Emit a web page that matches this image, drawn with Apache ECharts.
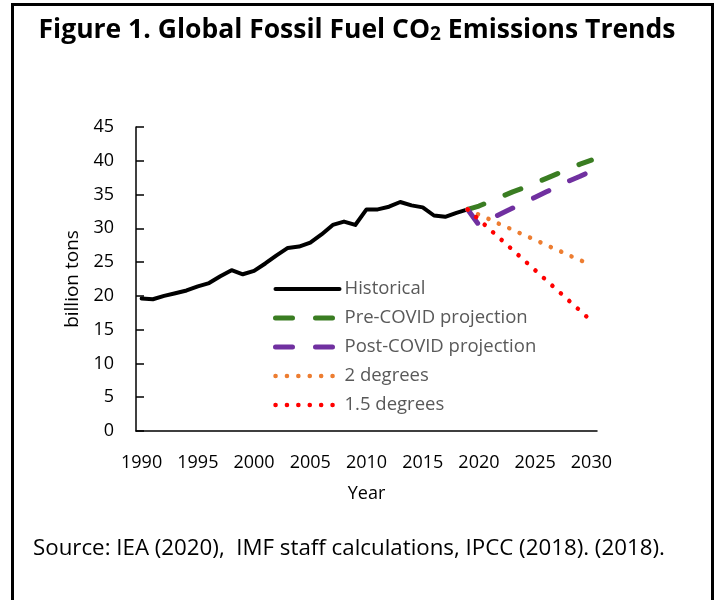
<!DOCTYPE html>
<html>
<head>
<meta charset="utf-8">
<script src="https://cdn.jsdelivr.net/npm/echarts@6/dist/echarts.min.js"></script>
<style>
html,body{margin:0;padding:0;background:#fff;}
#chart{width:714px;height:600px;}
</style>
</head>
<body>
<div id="chart"></div>
<script>
// ---- Data ----
var years = [];
for (var y = 1990; y <= 2030; y++) years.push(String(y));

var historicalYears = ['1990','1991','1992','1993','1994','1995','1996','1997','1998','1999',
  '2000','2001','2002','2003','2004','2005','2006','2007','2008','2009',
  '2010','2011','2012','2013','2014','2015','2016','2017','2018','2019'];
var historical = [19.6,19.5,20.0,20.4,20.8,21.4,21.9,22.9,23.8,23.2,
  23.7,24.8,26.0,27.1,27.3,27.9,29.1,30.5,31.0,30.5,
  32.8,32.8,33.2,33.9,33.4,33.1,31.9,31.7,32.3,32.8];

var projYears = ['2019','2020','2021','2022','2023','2024','2025','2026','2027','2028','2029','2030'];
var preCovid  = [32.8,33.3,34.0,34.7,35.4,36.0,36.7,37.4,38.1,38.8,39.5,40.1];
var postCovid = [32.8,30.5,31.4,32.2,33.0,33.8,34.6,35.4,36.2,37.0,37.7,38.5];
var twoDeg    = [32.8,32.0,31.3,30.5,29.8,29.0,28.3,27.5,26.8,26.0,25.3,24.5];
var onePointFive = [32.8,31.3,29.8,28.3,26.8,25.3,23.8,22.3,20.8,19.3,17.8,16.3];

var seriesNames = ['Historical','Pre-COVID projection','Post-COVID projection','2 degrees','1.5 degrees'];
var yTicks = {min:0, max:45, interval:5};

function toSeriesData(ys, vals) {
  var map = {};
  ys.forEach(function(yr, i){ map[yr] = vals[i]; });
  return years.map(function(yr){ return map.hasOwnProperty(yr) ? map[yr] : null; });
}

var FONT = 'Open Sans';
var chart = echarts.init(document.getElementById('chart'), null, {renderer:'canvas'});

function lineSeries(name, data, color, width, type) {
  return {
    name: name, type: 'line', data: data, symbol: 'none', showSymbol: false,
    connectNulls: false, animation: false,
    lineStyle: {color: color, width: width, type: type, cap: 'round', join: 'round'},
    itemStyle: {color: color}
  };
}

var option = {
  animation: false,
  backgroundColor: '#fff',
  title: {
    text: '{b|Figure 1. Global Fossil Fuel CO}{s|2}{b| Emissions Trends}',
    left: 'center', top: 12,
    textStyle: {
      rich: {
        b: {fontFamily: FONT, fontWeight: 'bold', fontSize: 26.5, color: '#000'},
        s: {fontFamily: FONT, fontWeight: 'bold', fontSize: 19, color: '#000', padding:[8,0,0,0]}
      }
    }
  },
  grid: {left: 136, right: 117, top: 127, bottom: 169, containLabel: false},
  legend: {
    orient: 'vertical', left: 273, top: 279, padding: 0,
    itemWidth: 64, itemHeight: 20, itemGap: 9,
    itemStyle: {opacity: 0},
    lineStyle: {width: 'inherit', type: 'inherit', cap: 'inherit', join: 'inherit'},
    textStyle: {fontFamily: FONT, fontSize: 18.5, color: '#595959', lineHeight: 20, padding:[0,0,0,0]},
    data: seriesNames
  },
  xAxis: {
    type: 'category', data: years, boundaryGap: true,
    name: 'Year', nameLocation: 'middle', nameGap: 54,
    nameTextStyle: {fontFamily: FONT, fontSize: 18, color: '#000'},
    axisLine: {lineStyle: {color: '#000', width: 1.5}},
    axisTick: {inside: true, length: 8, interval: 4, lineStyle: {color: '#000', width: 1.5}},
    axisLabel: {interval: 4, margin: 23, fontFamily: FONT, fontSize: 18, color: '#000'},
    splitLine: {show: false}
  },
  yAxis: {
    type: 'value', min: yTicks.min, max: yTicks.max, interval: yTicks.interval,
    name: 'billion tons', nameLocation: 'middle', nameGap: 48, nameRotate: 90,
    nameTextStyle: {fontFamily: FONT, fontSize: 19, color: '#000'},
    axisLine: {show: true, lineStyle: {color: '#000', width: 1.5}},
    axisTick: {show: true, inside: true, length: 8, lineStyle: {color: '#000', width: 1.5}},
    axisLabel: {margin: 22, fontFamily: FONT, fontSize: 18, color: '#000'},
    splitLine: {show: false}
  },
  series: [
    lineSeries(seriesNames[0], toSeriesData(historicalYears, historical), '#000000', 4, 'solid'),
    lineSeries(seriesNames[1], toSeriesData(projYears, preCovid), '#3A7D22', 5, [17, 23]),
    lineSeries(seriesNames[2], toSeriesData(projYears, postCovid), '#7030A0', 5, [17, 23]),
    lineSeries(seriesNames[3], toSeriesData(projYears, twoDeg), '#ED7D31', 4.5, [0.1, 11.3]),
    lineSeries(seriesNames[4], toSeriesData(projYears, onePointFive), '#FF0000', 4.5, [0.1, 11.3])
  ],
  graphic: [
    {type: 'polyline', silent: true,
     shape: {points: [[12.5, 600], [12.5, 4.5], [712.5, 4.5], [712.5, 600]]},
     style: {stroke: '#000', lineWidth: 3, fill: null}},
    {type: 'text', left: 33, top: 538,
     style: {text: 'Source: IEA (2020),  IMF staff calculations, IPCC (2018). (2018).',
             fontFamily: FONT, fontSize: 22.3, fill: '#000'}}
  ]
};
chart.setOption(option);
</script>
</body>
</html>
